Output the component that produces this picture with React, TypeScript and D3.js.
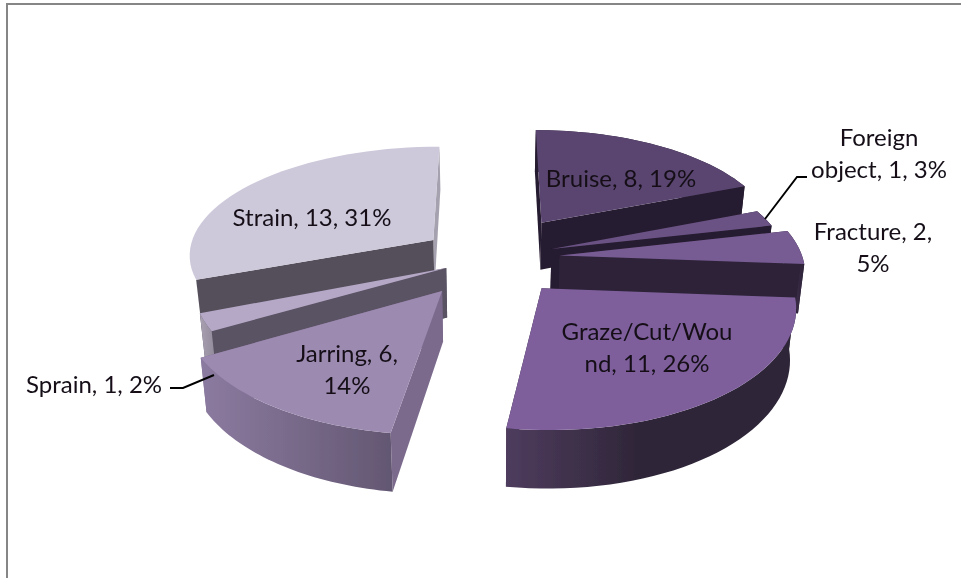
import React from "react";
import * as d3 from "d3";

const categories = ["Bruise", "Foreign object", "Fracture", "Graze/Cut/Wound", "Jarring", "Sprain", "Strain"];
const counts = [8, 1, 2, 11, 6, 1, 13];
const percents = [19, 3, 5, 26, 14, 2, 31];

// Excel-style per-slice explosion and radius (layout, not data)
const explosion = [95, 65, 70, 80, 82, 48, 70];
const radii = [240, 236, 243, 243, 247, 247, 246];
const depthRadii = [240, 236, 243, 245, 247, 247, 232];
const showRim = [true, true, true, true, true, true, false];
const topColors = ["#5a4570", "#6a5284", "#775b93", "#7e5f9c", "#9d8ab1", "#b5a8c6", "#cdc8da"];
const cutColors = ["#261c30", "#261c30", "#2d2338", "#2f2639", "#7c6b8d", "#5a5263", "#55505b"];
const sideLight = ["#3a2c48", "#3a2c48", "#3a2c48", "#4f3c5e", "#8c7ba0", "#a9a1b2", "#a8a3b0"];
const sideDark = ["#261c30", "#261c30", "#2d2338", "#2f2639", "#635772", "#8f8899", "#8f8a96"];
const paintOrder = [6, 0, 1, 2, 5, 4, 3];

const labelLines = [
  ["Bruise, 8, 19%"],
  ["Foreign", "object, 1, 3%"],
  ["Fracture, 2,", "5%"],
  ["Graze/Cut/Wou", "nd, 11, 26%"],
  ["Jarring, 6,", "14%"],
  ["Sprain, 1, 2%"],
  ["Strain, 13, 31%"],
];
const labelAnchors: [number, number][] = [
  [621, 187], [879, 146], [873, 240], [647, 340], [347, 362], [94, 393], [312, 226],
];
const leaders: [number, number][][] = [
  [[765, 219], [797, 177], [807, 177]],
  [[170, 388], [183, 388], [214, 375]],
];

const CX = 490, CY = 258, TILT = 0.469, PERSP = 1898, DEPTH = 49, TAPER = 0.02;

function project(a: number, b: number, z: number): [number, number] {
  const s = 1 / (1 - b / PERSP);
  return [CX + a * s * (1 - TAPER * z), CY + TILT * b * s + DEPTH * z * s];
}

const line = d3.line<[number, number]>().curve(d3.curveLinearClosed);
const arcs = d3.pie<number>().sort(null).startAngle(0).endAngle(2 * Math.PI)(counts);

export default function App() {
  const faces: React.ReactNode[] = [];
  const defs: React.ReactNode[] = [];

  paintOrder.forEach((i) => {
    const { startAngle: t0, endAngle: t1 } = arcs[i];
    const mid = (t0 + t1) / 2;
    const ax = explosion[i] * Math.sin(mid);
    const bx = -explosion[i] * Math.cos(mid);
    const rim = (t: number, z: number) =>
      project(ax + radii[i] * Math.sin(t), bx - depthRadii[i] * Math.cos(t), z);
    const apex = (z: number) => project(ax, bx, z);
    const sample = (from: number, to: number) =>
      d3.range(0, 41).map((k) => from + ((to - from) * k) / 40);

    const outer = (from: number, to: number, key: string, fill: string) => {
      if (to <= from || !showRim[i]) return;
      const ts = sample(from, to);
      const pts = [...ts.map((t) => rim(t, 0)), ...ts.slice().reverse().map((t) => rim(t, 1))];
      faces.push(<path key={key} d={line(pts) as string} fill={fill} />);
    };
    const cut = (t: number, key: string) => {
      const fill = i === 6 && t === t1 ? "#a6a1ae" : cutColors[i];
      const pts = [apex(0), rim(t, 0), rim(t, 1), apex(1)];
      faces.push(<path key={key} d={line(pts) as string} fill={fill} />);
    };

    const gid = `side-${i}`;
    defs.push(
      <linearGradient key={gid} id={gid} x1="0" x2="1" y1="0" y2="0">
        <stop offset="0" stopColor={sideLight[i]} />
        <stop offset={i === 3 ? "0.45" : "1"} stopColor={sideDark[i]} />
      </linearGradient>
    );

    // back-facing rim parts first
    const q1 = Math.PI / 2, q3 = (3 * Math.PI) / 2;
    outer(t0, Math.min(t1, q1), `b1-${i}`, cutColors[i]);
    outer(Math.max(t0, q3), t1, `b2-${i}`, cutColors[i]);
    // cut faces, farthest first
    const byDepth = [t0, t1].sort((p, q) => -Math.cos(p) - -Math.cos(q));
    byDepth.forEach((t, k) => cut(t, `c${k}-${i}`));
    // front-facing rim
    outer(Math.max(t0, q1), Math.min(t1, q3), `f-${i}`, `url(#${gid})`);
    // top
    const top = [apex(0), ...sample(t0, t1).map((t) => rim(t, 0))];
    faces.push(<path key={`t-${i}`} d={line(top) as string} fill={topColors[i]} />);
  });

  const leaderPath = d3.line();

  return (
    <svg
      width={961}
      height={578}
      viewBox="0 0 961 578"
      style={{ position: "absolute", left: 0, top: 0, display: "block", background: "#fff" }}
    >
      <defs>
        {defs}
        <filter id="soft" x="-5%" y="-5%" width="110%" height="110%">
          <feGaussianBlur stdDeviation="0.45" />
        </filter>
      </defs>
      <rect x={7} y={4} width={960} height={580} fill="#fff" stroke="#868686" strokeWidth={2} />
      <g filter="url(#soft)">
        {faces}
        {leaders.map((l, i) => (
          <path key={i} d={leaderPath(l) as string} fill="none" stroke="#000" strokeWidth={1.9} />
        ))}
        {categories.map((c, i) => (
          <text
            key={c}
            textAnchor="middle"
            fontFamily="Lato, sans-serif"
            fontSize={24}
            fill="#141018"
            aria-label={`${c}, ${counts[i]}, ${percents[i]}%`}
          >
            {labelLines[i].map((ln, k) => (
              <tspan key={k} x={labelAnchors[i][0]} y={labelAnchors[i][1] + k * 32}>
                {ln}
              </tspan>
            ))}
          </text>
        ))}
      </g>
    </svg>
  );
}
